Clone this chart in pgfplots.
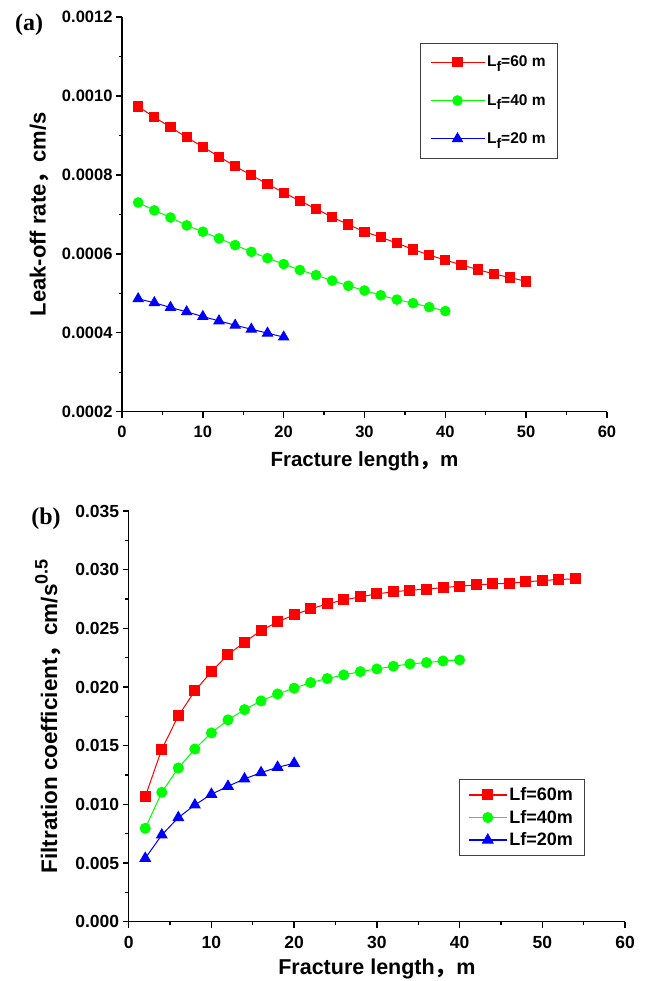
\documentclass[border=0pt]{standalone}
\usepackage{fontspec}
\setmainfont{Liberation Sans}
\newfontfamily\cjk{Noto Sans CJK SC}
\newfontfamily\serifb{Liberation Serif}
\usepackage{pgfplots}
\pgfplotsset{compat=1.18}

% panel (a): leak-off rate
\pgfplotstableread{
x y
2 0.000973
4 0.000946
6 0.000921
8 0.000895
10 0.000871
12 0.000846
14 0.000822
16 0.000799
18 0.000777
20 0.000755
22 0.000734
24 0.000714
26 0.000693
28 0.000674
30 0.000656
32 0.000642
34 0.000627
36 0.000611
38 0.000597
40 0.000584
42 0.000572
44 0.000560
46 0.000549
48 0.000540
50 0.000530
}\leakA
\pgfplotstableread{
x y
2 0.000730
4 0.000710
6 0.000692
8 0.000672
10 0.000656
12 0.000639
14 0.000622
16 0.000605
18 0.000589
20 0.000574
22 0.000559
24 0.000546
26 0.000532
28 0.000519
30 0.000507
32 0.000495
34 0.000484
36 0.000475
38 0.000465
40 0.000455
}\leakB
\pgfplotstableread{
x y
2 0.000486
4 0.000476
6 0.000464
8 0.000453
10 0.000441
12 0.000430
14 0.000419
16 0.000409
18 0.000399
20 0.000389
}\leakC

% panel (b): filtration coefficient
\pgfplotstableread{
x y
2 0.01066
4 0.01470
6 0.01754
8 0.01967
10 0.02131
12 0.02276
14 0.02382
16 0.02481
18 0.02555
20 0.02615
22 0.02666
24 0.02708
26 0.02742
28 0.02768
30 0.02794
32 0.02811
34 0.02825
36 0.02834
38 0.02847
40 0.02859
42 0.02870
44 0.02879
46 0.02884
48 0.02896
50 0.02907
52 0.02916
54 0.02922
}\filtA
\pgfplotstableread{
x y
2 0.00796
4 0.01103
6 0.01310
8 0.01472
10 0.01609
12 0.01720
14 0.01807
16 0.01882
18 0.01941
20 0.01990
22 0.02038
24 0.02072
26 0.02103
28 0.02131
30 0.02154
32 0.02177
34 0.02197
36 0.02208
38 0.02222
40 0.02231
}\filtB
\pgfplotstableread{
x y
2 0.00540
4 0.00739
6 0.00887
8 0.00995
10 0.01086
12 0.01154
14 0.01217
16 0.01270
18 0.01316
20 0.01350
}\filtC

\def\leglen{54pt}
\pgfplotsset{
  panel/.style={
    scale only axis,
    axis x line*=bottom, axis y line*=left,
    axis line style={line width=1.4pt},
    every tick/.style={line width=1.4pt, black},
    tick align=outside,
    major tick length=6pt, minor tick length=3.5pt,
    minor x tick num=1, minor y tick num=1,
    xmin=0, xmax=60, xtick={0,10,...,60},
    scaled y ticks=false,
    /pgf/number format/assume math mode=true,
    ticklabel style={font=\bfseries\fontsize{16.5}{18}\selectfont},
    xticklabel style={yshift=-5pt},
    label style={font=\bfseries\fontsize{20.5}{23}\selectfont},
    legend cell align=left,
  },
  % legend sample: coloured line with the mark in the middle
  legline/.style={legend image code/.code={
    \draw[draw=#1, line width=1.2pt] (0pt,0pt) -- (\leglen,0pt);
    \draw[mark repeat=2, mark phase=2, draw=none] plot coordinates {(0pt,0pt) (0.5*\leglen,0pt) (\leglen,0pt)};}},
  redl/.style={red, draw=red, line width=1pt, mark=square*, mark size=4.6pt, mark options={solid, fill=red, draw=red}, legline=red},
  grnl/.style={green, draw=green, line width=1pt, mark=*, mark size=4.8pt, mark options={solid, fill=green, draw=green}, legline=green},
  blul/.style={blue, draw=blue, line width=1pt, mark=triangle*, mark size=5.8pt, mark options={solid, fill=blue, draw=blue}, legline=blue},
}
\newcommand{\Lf}{L\raisebox{-0.55ex}{\fontsize{14}{14}\selectfont f}}

\begin{document}
\begin{tikzpicture}
\useasboundingbox (0,0) rectangle (646pt,981pt);

\node[font=\serifb\bfseries\fontsize{24}{26}\selectfont] at (29pt,956pt) {(a)};
\node[font=\serifb\bfseries\fontsize{24}{26}\selectfont] at (46pt,462pt) {(b)};

\begin{axis}[panel,
  at={(122pt,569.3pt)}, anchor=south west,
  width=485pt, height=394.7pt,
  ymin=0.0002, ymax=0.0012,
  ytick={0.0002,0.0004,...,0.00121},
  yticklabel style={/pgf/number format/.cd, fixed, precision=4, zerofill},
  xlabel={Fracture length{\cjk ，}m},
  xlabel style={yshift=-7pt},
  ylabel={Leak-off rate{\cjk ，}cm/s},
  ylabel style={yshift=6pt, font=\bfseries\fontsize{22}{24}\selectfont},
  legend style={at={(0.899,0.935)}, anchor=north east, draw=black!75, line width=0.8pt,
    font=\bfseries\fontsize{15.5}{17}\selectfont, row sep=22pt, inner xsep=10pt, inner ysep=11pt},
]
\addplot[redl] table {\leakA};
\addlegendentry{\Lf=60 m}
\addplot[grnl] table {\leakB};
\addlegendentry{\Lf=40 m}
\addplot[blul] table {\leakC};
\addlegendentry{\Lf=20 m}
\end{axis}

\def\leglen{38pt}
\begin{axis}[panel,
  at={(128.7pt,59.3pt)}, anchor=south west,
  width=496.3pt, height=410.7pt,
  ymin=0, ymax=0.035,
  ytick={0,0.005,...,0.0351},
  yticklabel style={/pgf/number format/.cd, fixed, precision=3, zerofill},
  ticklabel style={font=\bfseries\fontsize{17.5}{19}\selectfont},
  label style={font=\bfseries\fontsize{21.5}{24}\selectfont},
  xlabel={Fracture length{\cjk ，}m},
  xlabel style={yshift=-3pt},
  ylabel={Filtration coefficient{\cjk ，}cm/s\raisebox{0.8ex}{\fontsize{18}{18}\selectfont 0.5}},
  ylabel style={yshift=8pt, font=\bfseries\fontsize{22.5}{25}\selectfont},
  legend style={at={(0.918,0.3467)}, anchor=north east, draw=black!75, line width=0.8pt,
    font=\bfseries\fontsize{18}{20}\selectfont, row sep=4pt, inner xsep=9pt, inner ysep=6pt},
]
\addplot[redl, mark size=5pt] table {\filtA};
\addlegendentry{Lf=60m}
\addplot[grnl, mark size=5pt] table {\filtB};
\addlegendentry{Lf=40m}
\addplot[blul, mark size=6pt] table {\filtC};
\addlegendentry{Lf=20m}
\end{axis}
\end{tikzpicture}
\end{document}
